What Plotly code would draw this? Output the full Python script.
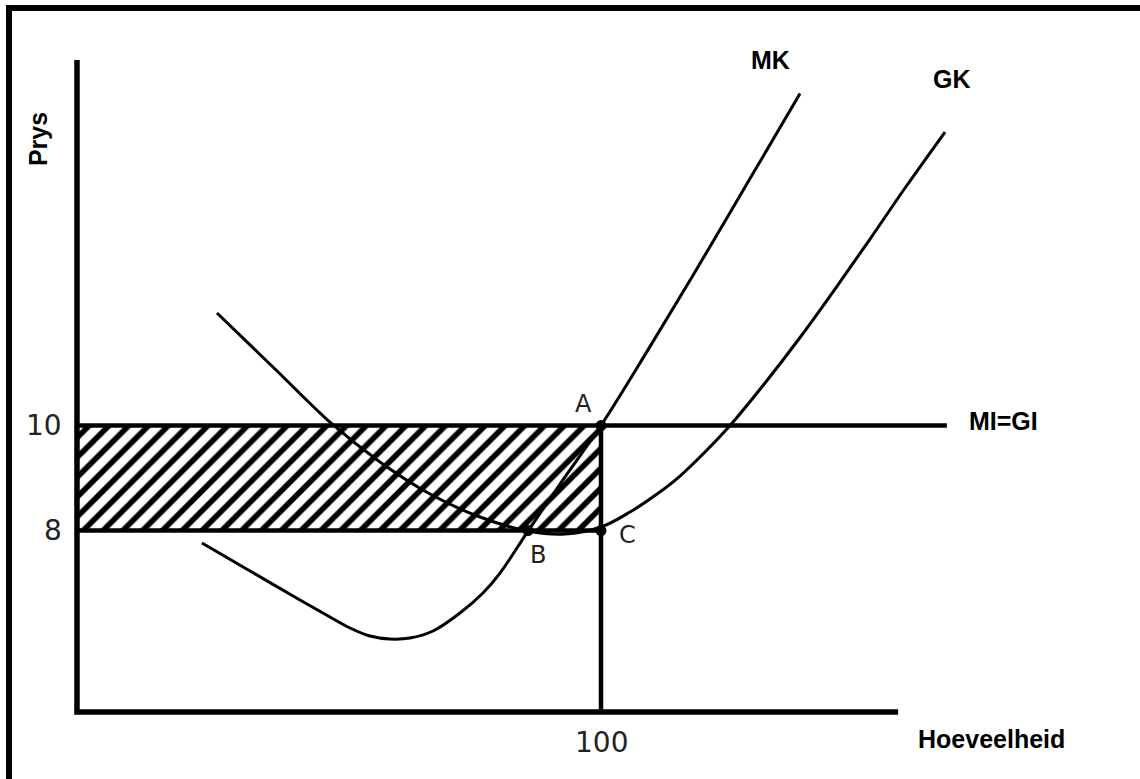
import plotly.graph_objects as go

# ---- data (quantity, price) ----
mk_q = [23.85, 33.02, 42.56, 48.28, 52.10, 55.92, 59.73, 63.55, 67.94, 73.09, 77.48, 80.73, 86.07, 92.18,
        100.0, 109.35, 118.89, 128.44, 137.98]
mk_p = [7.762, 7.229, 6.676, 6.352, 6.143, 5.990, 5.933, 5.952, 6.086, 6.429, 6.810, 7.190, 7.990, 8.886,
        10.0, 11.503, 13.084, 14.703, 16.322]

gk_q = [26.72, 37.79, 48.66, 57.82, 67.37, 76.91, 86.07, 93.13, 100.0, 105.53, 110.69, 115.08, 119.85,
        124.62, 131.30, 137.98, 144.66, 151.34, 158.02, 165.65]
gk_p = [12.143, 11.076, 10.029, 9.305, 8.695, 8.257, 7.990, 7.933, 8.067, 8.352, 8.695, 9.038, 9.495,
        10.0, 10.810, 11.676, 12.600, 13.552, 14.524, 15.590]

mr_price = 10          # MI = GI
min_cost = 8           # GK at chosen output
quantity = 100
mr_end_q = 166.0

point_names = ["A", "B", "C"]
point_q = [100, 86.07, 100]
point_p = [10, 8, 8]

y_tick_vals = [10, 8]
y_tick_text = ["10", "8"]
x_tick_vals = [100]
x_tick_text = ["100"]

# axis extents (data units)
x_axis_end = 156.7
y_axis_top = 16.96
y_axis_bottom = 4.543

X_RANGE = [-14.69, 202.86]
Y_RANGE = [3.267, 18.105]

fig = go.Figure()

# hatched profit rectangle
fig.add_trace(go.Scatter(
    x=[0, quantity, quantity, 0, 0],
    y=[min_cost, min_cost, mr_price, mr_price, min_cost],
    mode="none", fill="toself", fillcolor="white",
    fillpattern=dict(shape="/", size=14, solidity=0.4, fgcolor="black", fgopacity=1,
                     bgcolor="white"),
    hoverinfo="skip", showlegend=False))

# curves
fig.add_trace(go.Scatter(x=gk_q, y=gk_p, mode="lines",
                         line=dict(color="black", width=3, shape="spline", smoothing=1.0),
                         showlegend=False))
fig.add_trace(go.Scatter(x=mk_q, y=mk_p, mode="lines",
                         line=dict(color="black", width=3, shape="spline", smoothing=1.0),
                         showlegend=False))

# MI=GI line and rectangle edges
fig.add_trace(go.Scatter(x=[0, mr_end_q], y=[mr_price, mr_price], mode="lines",
                         line=dict(color="black", width=4.5), showlegend=False))
fig.add_trace(go.Scatter(x=[0, quantity], y=[min_cost, min_cost], mode="lines",
                         line=dict(color="black", width=4.5), showlegend=False))
fig.add_trace(go.Scatter(x=[quantity, quantity], y=[y_axis_bottom, mr_price], mode="lines",
                         line=dict(color="black", width=4.5), showlegend=False))

# axes
fig.add_trace(go.Scatter(x=[0, 0, x_axis_end], y=[y_axis_top, y_axis_bottom, y_axis_bottom],
                         mode="lines", line=dict(color="black", width=5.5), showlegend=False))

# points
fig.add_trace(go.Scatter(x=point_q, y=point_p, mode="markers",
                         marker=dict(color="black", size=11), showlegend=False))

tick_font = dict(family="DejaVu Sans", size=28, color="#222222")
lab_font = dict(family="DejaVu Sans", size=24, color="#222222")
bold_font = dict(family="Liberation Sans", size=25, color="black")

anns = []
for v, t in zip(y_tick_vals, y_tick_text):
    anns.append(dict(x=0, y=v, xref="x", yref="y", text=t, showarrow=False,
                     xanchor="right", yanchor="middle", xshift=-13, font=tick_font))
for v, t in zip(x_tick_vals, x_tick_text):
    anns.append(dict(x=v, y=y_axis_bottom, xref="x", yref="y", text=t, showarrow=False,
                     xanchor="center", yanchor="top", yshift=-12, font=tick_font))

offsets = {"A": (-18, 22), "B": (10, -24), "C": (26, -4)}
for n, q, p in zip(point_names, point_q, point_p):
    dx, dy = offsets[n]
    anns.append(dict(x=q, y=p, xref="x", yref="y", text=n, showarrow=False,
                     xshift=dx, yshift=dy, font=lab_font))

anns.append(dict(x=mk_q[-1], y=mk_p[-1], xref="x", yref="y", text="<b>MK</b>", showarrow=False,
                 xshift=-30, yshift=34, font=bold_font))
anns.append(dict(x=gk_q[-1], y=gk_p[-1], xref="x", yref="y", text="<b>GK</b>", showarrow=False,
                 xshift=7, yshift=53, font=bold_font))
anns.append(dict(x=mr_end_q, y=mr_price, xref="x", yref="y", text="<b>MI=GI</b>", showarrow=False,
                 xanchor="center", xshift=57, yshift=5, font=bold_font))
anns.append(dict(x=x_axis_end, y=y_axis_bottom, xref="x", yref="y", text="<b>Hoeveelheid</b>",
                 showarrow=False, xanchor="center", xshift=93, yshift=-27, font=bold_font))
anns.append(dict(x=0, y=y_axis_top, xref="x", yref="y", text="<b>Prys</b>", showarrow=False,
                 textangle=-90, xshift=-39, yshift=-79, font=bold_font))

fig.update_layout(
    width=1140, height=779,
    margin=dict(l=0, r=0, t=0, b=0),
    paper_bgcolor="white", plot_bgcolor="white",
    xaxis=dict(range=X_RANGE, visible=False, fixedrange=True),
    yaxis=dict(range=Y_RANGE, visible=False, fixedrange=True),
    annotations=anns,
    shapes=[dict(type="rect", xref="paper", yref="paper", x0=9 / 1140, x1=1.02,
                 y0=-0.02, y1=1 - 8 / 779, line=dict(color="black", width=6))],
    showlegend=False,
)

fig.write_html("out.html", config={"displayModeBar": False},
               post_script="document.body.style.margin='0';document.body.style.overflow='hidden';")
